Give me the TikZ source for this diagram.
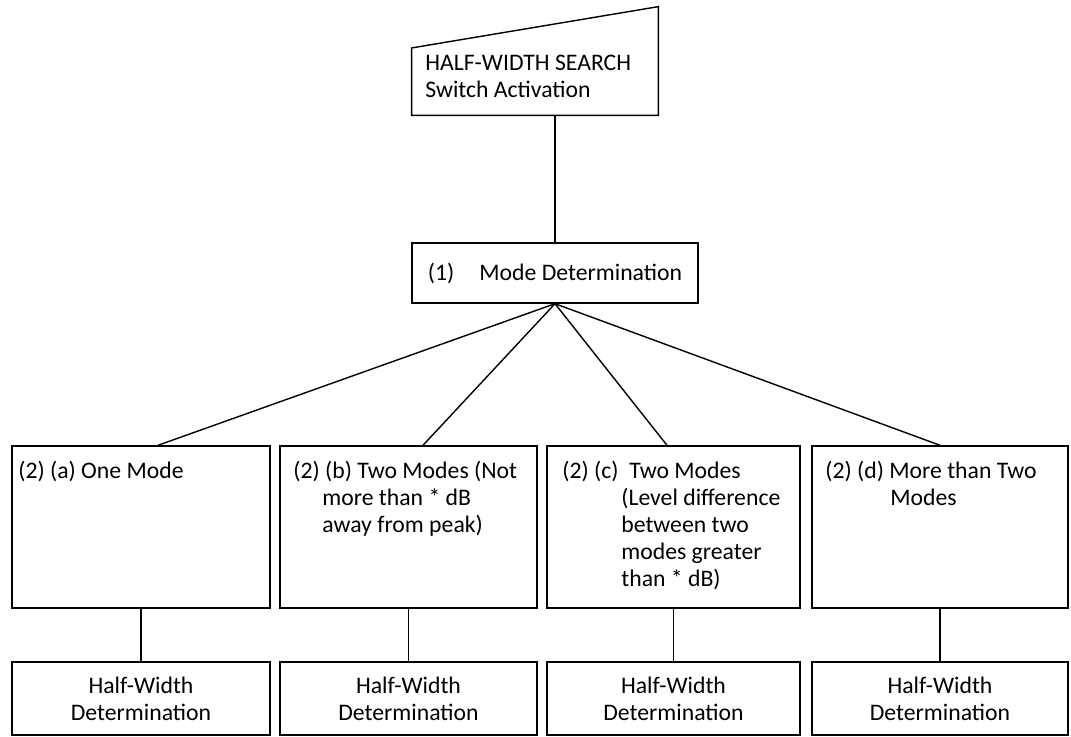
\documentclass[tikz,border=0pt]{standalone}
\usepackage{fontspec}
\setmainfont{Carlito}
\usetikzlibrary{positioning,calc}

\begin{document}
\begin{tikzpicture}[x=1cm,y=1cm]
\tikzset{
  bx/.style={rectangle,draw=black,line width=0.8pt,inner sep=0pt,font=\fontsize{13.5}{15.4}\selectfont,align=center},
  rb/.style={bx,minimum height=3.24cm},
  hb/.style={bx,minimum height=1.46cm},
  tx/.style={font=\fontsize{13.5}{15.4}\selectfont,inner sep=0pt,align=left,anchor=north west},
  ln/.style={draw=black,line width=0.8pt}
}
\useasboundingbox (0,0) rectangle (21.42,14.72);
% switch input
\node[minimum width=4.92cm,minimum height=2.16cm,inner sep=0pt] (sw) at (10.70,13.50) {};
\draw[ln] (sw.south west) -- ($(sw.south west)!0.62!(sw.north west)$) -- (sw.north east) -- (sw.south east) -- cycle;
\node[tx] (swt) at (8.50,13.63) {HALF-WIDTH SEARCH\\Switch Activation};
\node[bx,minimum width=5.72cm,minimum height=1.20cm] (md) at (11.10,9.26) {(1)\hspace{0.5cm}Mode Determination};
\draw[ln] (md.north) -- (md.north |- sw.south);
% four cases
\node[rb,minimum width=5.16cm] (ra) at (2.82,4.18) {};
\node[rb,minimum width=5.14cm] (rb) at (8.17,4.18) {};
\node[rb,minimum width=5.06cm] (rc) at (13.47,4.18) {};
\node[rb,minimum width=5.12cm] (rd) at (18.80,4.18) {};
\node[tx] (ta) at (0.36,5.50) {(2) (a) One Mode};
\node[tx] (tb) at (5.86,5.50) {(2) (b) Two Modes (Not\\\hspace*{0.58cm}more than * dB\\\hspace*{0.58cm}away from peak)};
\node[tx] (tc) at (11.24,5.50) {(2) (c)\ \ Two Modes\\\hspace*{1.18cm}(Level difference\\\hspace*{1.18cm}between two\\\hspace*{1.18cm}modes greater\\\hspace*{1.18cm}than * dB)};
\node[tx] (td) at (16.50,5.50) {(2) (d) More than Two\\\hspace*{1.30cm}Modes};
\foreach \n/\s in {a/0.34,b/0.29,c/-0.13,d/0}{\draw[ln] (md.south) -- ([xshift=\s cm]r\n.north);}
% results
\node[hb,minimum width=5.16cm] (ha) at (2.82,0.75) {Half-Width\\Determination};
\node[hb,minimum width=5.14cm] (hb) at (8.17,0.75) {Half-Width\\Determination};
\node[hb,minimum width=5.06cm] (hc) at (13.47,0.75) {Half-Width\\Determination};
\node[hb,minimum width=5.12cm] (hd) at (18.80,0.75) {Half-Width\\Determination};
\foreach \n in {a,b,c,d}{\draw[ln] (r\n.south) -- (h\n.north);}
\end{tikzpicture}
\end{document}
